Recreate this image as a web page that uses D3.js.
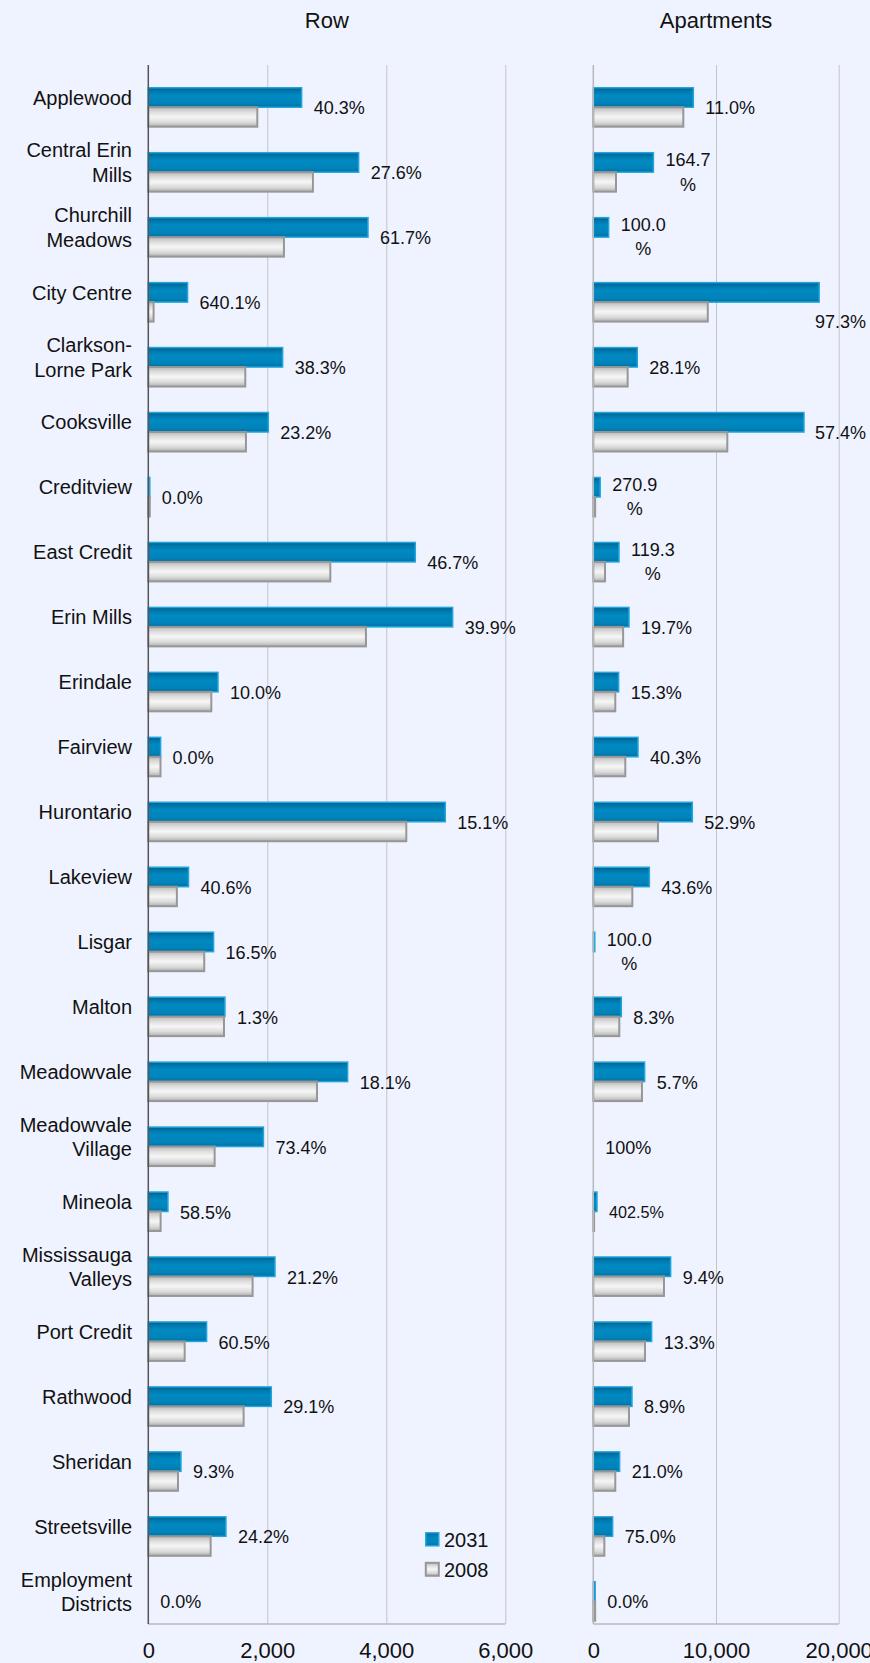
<!DOCTYPE html>
<html>
<head>
<meta charset="utf-8">
<script src="https://cdn.jsdelivr.net/npm/d3@7"></script>
<style>
  html, body { margin: 0; padding: 0; background: #eff3ff; }
  svg { display: block; font-family: "Liberation Sans", Arial, sans-serif; }
</style>
</head>
<body>
<div id="chart"></div>
<script>
// categories, \n marks where the label wraps
const categories = [
    "Applewood", "Central Erin\nMills", "Churchill\nMeadows", "City Centre",
    "Clarkson-\nLorne Park", "Cooksville", "Creditview", "East Credit",
    "Erin Mills", "Erindale", "Fairview", "Hurontario", "Lakeview", "Lisgar",
    "Malton", "Meadowvale", "Meadowvale\nVillage", "Mineola",
    "Mississauga\nValleys", "Port Credit", "Rathwood", "Sheridan",
    "Streetsville", "Employment\nDistricts"
];

const seriesNames = ["2031", "2008"];

// Row housing units
const row2031 = [2577, 3535, 3692, 660, 2258, 2017, 25, 4487, 5115, 1171, 207, 4991,
    676, 1097, 1288, 3350, 1935, 330, 2129, 980, 2067, 549, 1305, 0];
const row2008 = [1832, 2767, 2280, 89, 1630, 1641, 25, 3059, 3658, 1059, 205, 4336,
    480, 940, 1272, 2835, 1115, 207, 1753, 611, 1602, 499, 1048, 0];
const rowGrowth = ["40.3%", "27.6%", "61.7%", "640.1%", "38.3%", "23.2%", "0.0%", "46.7%",
    "39.9%", "10.0%", "0.0%", "15.1%", "40.6%", "16.5%", "1.3%", "18.1%", "73.4%", "58.5%",
    "21.2%", "60.5%", "29.1%", "9.3%", "24.2%", "0.0%"];
const rowTicks = [0, 2000, 4000, 6000];

// Apartment units
const apt2031 = [8151, 4897, 1250, 18408, 3587, 17171, 560, 2094, 2909, 2065, 3641, 8069,
    4567, 120, 2282, 4184, 0, 300, 6303, 4755, 3152, 2146, 1575, 150];
const apt2008 = [7336, 1850, 0, 9330, 2800, 10922, 150, 955, 2430, 1793, 2608, 5271,
    3180, 0, 2119, 3967, 0, 65, 5760, 4211, 2907, 1793, 900, 150];
const aptGrowth = ["11.0%", "164.7\n%", "100.0\n%", "97.3%", "28.1%", "57.4%", "270.9\n%",
    "119.3\n%", "19.7%", "15.3%", "40.3%", "52.9%", "43.6%", "100.0\n%", "8.3%", "5.7%",
    "100%", "402.5%", "9.4%", "13.3%", "8.9%", "21.0%", "75.0%", "0.0%"];
const aptTicks = [0, 10000, 20000];

const WIDTH = 870, HEIGHT = 1663;
const PLOT_TOP = 65, PLOT_BOTTOM = 1624;
const LABEL_GAP = 12;

const svg = d3.select('#chart').append('svg')
    .attr('width', WIDTH)
    .attr('height', HEIGHT);

svg.append('rect')
    .attr('width', WIDTH).attr('height', HEIGHT)
    .attr('fill', '#eff3ff');

// bar gradients
const defs = svg.append('defs');
const blueGrad = defs.append('linearGradient')
    .attr('id', 'grad-blue').attr('x1', 0).attr('y1', 0).attr('x2', 0).attr('y2', 1);
[[0, '#005f8c'], [0.18, '#0078ac'], [0.4, '#0089c2'], [0.8, '#0083b9'], [1, '#006fa0']]
    .forEach(s => blueGrad.append('stop').attr('offset', s[0]).attr('stop-color', s[1]));
const grayGrad = defs.append('linearGradient')
    .attr('id', 'grad-gray').attr('x1', 0).attr('y1', 0).attr('x2', 0).attr('y2', 1);
[[0, '#b9b9b9'], [0.25, '#dedede'], [0.5, '#f6f6f6'], [0.78, '#dadada'], [1, '#adadad']]
    .forEach(s => grayGrad.append('stop').attr('offset', s[0]).attr('stop-color', s[1]));

const barStyles = [
    {fill: 'url(#grad-blue)', stroke: '#22a5de', width: 1.5},
    {fill: 'url(#grad-gray)', stroke: '#979797', width: 2}
];

const y = d3.scaleBand()
    .domain(categories)
    .range([PLOT_TOP, PLOT_BOTTOM]);
const bw = y.bandwidth();

// category labels
const catLabels = svg.append('g').attr('class', 'categories')
    .selectAll('text').data(categories).enter()
    .append('text')
        .attr('text-anchor', 'end')
        .attr('font-size', 20)
        .attr('fill', '#111');
catLabels.each(function(d) {
    const lines = d.split('\n');
    const mid = y(d) + bw / 2;
    lines.forEach((line, i) => {
        d3.select(this).append('tspan')
            .attr('x', 132)
            .attr('y', mid + (i - (lines.length - 1) / 2) * 24.3 + 7.2)
            .text(line);
    });
});

/**
 * Draws one panel: gridlines, both bar series, growth labels and tick labels
 */
function drawPanel(cfg) {
    const x = d3.scaleLinear()
        .domain([0, cfg.ticks[cfg.ticks.length - 1]])
        .range([cfg.left, cfg.right]);
    const g = svg.append('g');

    // title
    g.append('text')
        .attr('x', (cfg.left + cfg.right) / 2)
        .attr('y', 28)
        .attr('text-anchor', 'middle')
        .attr('font-size', 22)
        .attr('fill', '#111')
        .text(cfg.title);

    // gridlines
    const grid = g.append('g')
        .attr('transform', `translate(0,${PLOT_TOP})`)
        .call(d3.axisBottom(x).tickValues(cfg.ticks.slice(1)).tickSize(PLOT_BOTTOM - PLOT_TOP).tickFormat(''));
    grid.select('.domain').remove();
    grid.selectAll('line').attr('stroke', '#c4c4c8').attr('stroke-width', 1);

    // bottom border
    g.append('line')
        .attr('x1', x(0)).attr('x2', cfg.right)
        .attr('y1', PLOT_BOTTOM).attr('y2', PLOT_BOTTOM)
        .attr('stroke', '#b8b8bc').attr('stroke-width', 1.5);

    // bars
    [cfg.s2031, cfg.s2008].forEach((series, si) => {
        g.append('g').selectAll('rect').data(series).enter()
            .append('rect')
                .attr('x', x(0))
                .attr('y', (d, i) => y(categories[i]) + bw * (0.35 + 0.3 * si))
                .attr('width', d => Math.max(0, x(d) - x(0)))
                .attr('height', bw * 0.3)
                .attr('fill', barStyles[si].fill)
                .attr('stroke', d => d > 0 ? barStyles[si].stroke : 'none')
                .attr('stroke-width', barStyles[si].width);
    });

    // value axis line
    g.append('line')
        .attr('x1', x(0)).attr('x2', x(0))
        .attr('y1', PLOT_TOP).attr('y2', PLOT_BOTTOM)
        .attr('stroke', cfg.axisColor).attr('stroke-width', 1.5);

    // growth labels
    cfg.labels.forEach((label, i) => {
        const top = y(categories[i]);
        const barEnd = x(Math.max(cfg.s2031[i], cfg.s2008[i]));
        const lines = label.split('\n');
        const t = g.append('text')
            .attr('font-size', 18)
            .attr('fill', '#111');
        if (lines.length === 1) {
            t.text(label);
            let w = t.node().getComputedTextLength();
            if (cfg.maxLabelWidth && w > cfg.maxLabelWidth) {
                t.attr('font-size', 18 * cfg.maxLabelWidth / w);
                w = t.node().getComputedTextLength();
            }
            let lx = barEnd + LABEL_GAP;
            let cy = top + 43;
            if (lx + w > cfg.labelLimit) {
                lx = cfg.labelLimit - w;
                if (lx < x(cfg.s2031[i])) cy = top + 62;
            }
            t.attr('x', lx).attr('y', cy).attr('dy', '0.35em');
        } else {
            const spans = lines.map((line, li) => t.append('tspan')
                .attr('text-anchor', 'middle')
                .attr('y', top + 42 + (li - (lines.length - 1) / 2) * 24.5)
                .attr('dy', '0.35em')
                .text(line));
            const w = spans[0].node().getComputedTextLength();
            spans.forEach(s => s.attr('x', barEnd + LABEL_GAP + w / 2));
        }
    });

    // tick labels
    const axis = g.append('g')
        .attr('transform', `translate(0,1658)`)
        .call(d3.axisBottom(x).tickValues(cfg.ticks).tickSize(0).tickFormat(d3.format(',')));
    axis.select('.domain').remove();
    axis.selectAll('text')
        .attr('y', 0).attr('dy', 0)
        .attr('font-size', 22)
        .attr('font-family', '"Liberation Sans", Arial, sans-serif')
        .attr('fill', '#111');
}

drawPanel({
    title: 'Row', left: 148.3, right: 505.3, ticks: rowTicks,
    s2031: row2031, s2008: row2008, labels: rowGrowth,
    axisColor: '#555', labelLimit: 580
});

drawPanel({
    title: 'Apartments', left: 593.3, right: 838.7, ticks: aptTicks,
    s2031: apt2031, s2008: apt2008, labels: aptGrowth,
    axisColor: '#b8b8bc', labelLimit: 866, maxLabelWidth: 55
});

// legend
const legend = svg.append('g').attr('transform', 'translate(425,1532)');
seriesNames.forEach((name, i) => {
    legend.append('rect')
        .attr('x', 0.8).attr('y', i * 30 + 0.8)
        .attr('width', 13).attr('height', 13)
        .attr('fill', barStyles[i].fill)
        .attr('stroke', barStyles[i].stroke)
        .attr('stroke-width', barStyles[i].width);
    legend.append('text')
        .attr('x', 19).attr('y', i * 30 + 14.5)
        .attr('font-size', 20)
        .attr('fill', '#111')
        .text(name);
});
</script>
</body>
</html>
